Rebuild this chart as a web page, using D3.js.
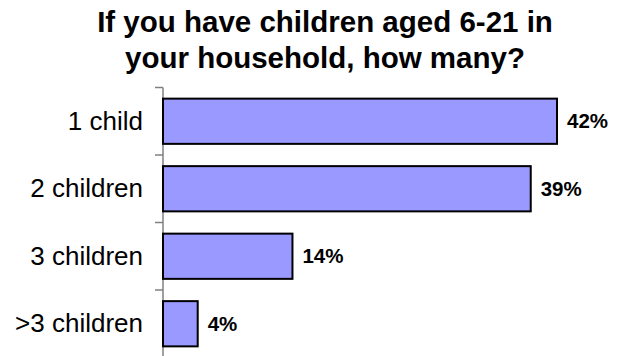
<!DOCTYPE html>
<html><head><meta charset="utf-8">
<script src="https://cdn.jsdelivr.net/npm/d3@7"></script>
<style>body{margin:0;background:#fff}</style>
</head><body>
<script>
const titleLines = ["If you have children aged 6-21 in", "your household, how many?"];
const categories = ["1 child", "2 children", "3 children", ">3 children"];
const values = [42, 39.2, 13.8, 3.7];
const valueLabels = ["42%", "39%", "14%", "4%"];

const W = 626, H = 356;
const svg = d3.select("body").append("svg").attr("width", W).attr("height", H)
  .style("font-family", "'Liberation Sans', Arial, sans-serif");

const x0 = 163;
const x = d3.scaleLinear().domain([0, 42]).range([x0, 557]);
const y = d3.scaleBand().domain(categories).range([87.5, 357.5]).paddingInner(0.33).paddingOuter(0.165);

svg.append("g").selectAll("text").data(titleLines).join("text")
  .attr("x", 325).attr("y", (d, i) => 32 + i * 36)
  .attr("text-anchor", "middle").attr("font-weight", "bold").attr("font-size", 29.5)
  .text(d => d);

// axis line and ticks at band boundaries
const edges = [87.5].concat(categories.map(c => y(c) + y.bandwidth() + (y.step() - y.bandwidth()) / 2));
svg.append("line").attr("x1", x0).attr("x2", x0).attr("y1", 87.5).attr("y2", 357.5)
  .attr("stroke", "#808080").attr("stroke-width", 1.5);
svg.append("g").selectAll("line").data(edges).join("line")
  .attr("x1", 155).attr("x2", x0).attr("y1", d => d).attr("y2", d => d)
  .attr("stroke", "#808080").attr("stroke-width", 1.5);

svg.append("g").selectAll("rect").data(values).join("rect")
  .attr("x", x(0)).attr("y", (d, i) => y(categories[i]))
  .attr("width", d => x(d) - x(0)).attr("height", y.bandwidth())
  .attr("fill", "#9999FF").attr("stroke", "#000").attr("stroke-width", 2);

svg.append("g").selectAll("text").data(categories).join("text")
  .attr("x", 143).attr("y", d => y(d) + y.bandwidth() / 2 + 8.5)
  .attr("text-anchor", "end").attr("font-size", 26).text(d => d);

svg.append("g").selectAll("text").data(values).join("text")
  .attr("x", d => x(d) + 10).attr("y", (d, i) => y(categories[i]) + y.bandwidth() / 2 + 7)
  .attr("font-weight", "bold").attr("font-size", 20.5).text((d, i) => valueLabels[i]);
</script>
</body></html>
